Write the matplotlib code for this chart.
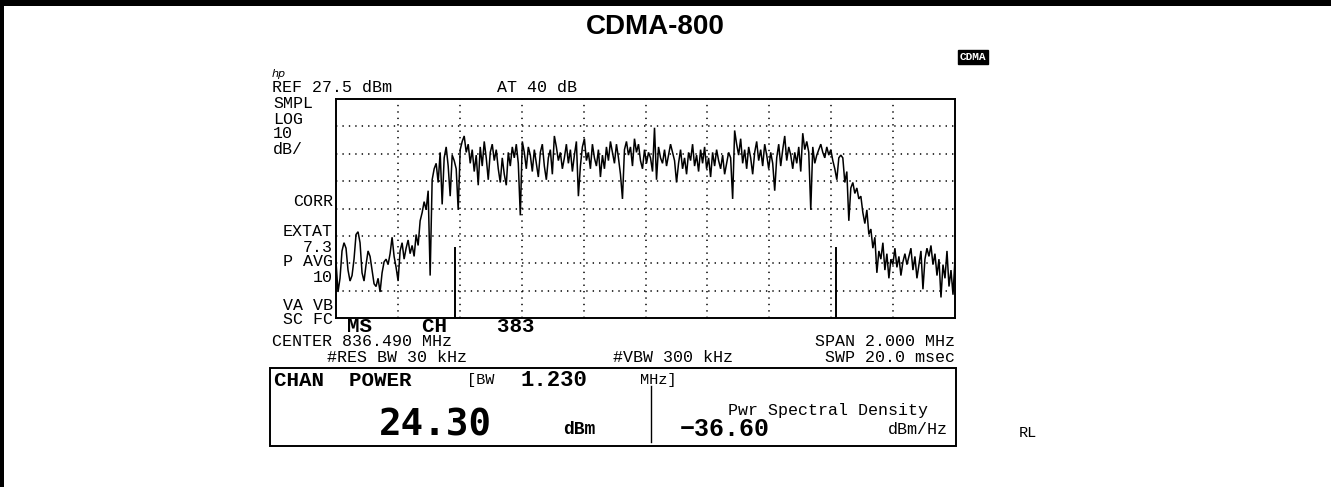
import numpy as np
import matplotlib
matplotlib.use("Agg")
import matplotlib.pyplot as plt
from matplotlib.patches import Rectangle

# ---------------- data ----------------
title = "CDMA-800"
center_mhz = 836.490
span_mhz = 2.000
ref_dbm = 27.5
db_per_div = 10
n_div_x = 10
n_div_y = 8
chan_bw_mhz = 1.230
marker_top_dbm = -27.0

trace_dbm = [
    -32, -43, -38, -28, -25, -27, -35, -39, -37, -31,
    -22, -21, -25, -36, -39, -33, -28, -30, -35, -40,
    -41, -38, -43, -36, -32, -31, -33, -29, -23, -30,
    -34, -39, -28, -25, -31, -27, -24, -29, -26, -30,
    -22, -26, -17, -14, -10, -13, -6, -37, -2, 2,
    4, -3, 8, -11, 6, 10, 3, -8, 7, 5,
    2, -13, 9, 12, 14, 8, 11, 4, 9, 1,
    7, -4, 10, 3, 12, 6, -2, 8, 11, 5,
    9, 2, -3, 6, 0, -4, 8, 3, 10, 6,
    11, 4, -15, 12, 8, 2, 10, 7, 1, 9,
    4, -1, 8, 11, 3, -2, 6, 9, 0, 14,
    10, 5, 8, 2, 6, 11, 4, 9, 1, 7,
    12, -8, 3, 10, 13, 5, 8, 2, 11, 6,
    3, 9, -1, 7, 2, 10, 5, 12, 8, 4,
    11, 6, 0, -9, 9, 12, 7, 10, 3, 13,
    8, 11, 5, 2, 9, 4, 8, 6, 1, 17,
    -2, 10, 6, 4, 9, 3, 7, 11, 8, 5,
    -3, 4, 9, 2, 6, 0, 8, 5, 11, 3,
    7, 1, 9, 4, 10, 2, 6, -1, 8, 3,
    9, 5, 2, 7, 0, 4, 8, 6, -9, 16,
    11, 7, 13, 4, 9, 2, 10, 6, 0, 8,
    12, 5, 9, 3, 11, 7, 2, 8, 4, -6,
    6, 11, 3, 9, 14, 5, 10, 7, 2, 8,
    4, 10, 1, 15, 9, 12, 8, -13, 10, 4,
    7, 9, 11, 8, 6, 10, 7, 9, 5, 2,
    -2, 6, 7, 6, -3, 1, -17, -5, -3, -7,
    -5, -9, -8, -14, -18, -13, -22, -20, -27, -23,
    -36, -28, -31, -25, -35, -29, -38, -31, -33, -27,
    -34, -30, -37, -32, -29, -33, -30, -27, -35, -30,
    -38, -33, -28, -42, -31, -27, -30, -26, -33, -29,
    -37, -31, -45, -33, -38, -28, -41, -35, -44, -31,
]

left_labels = ["SMPL", "LOG", "10", "dB/"]
mid_labels = ["CORR", "EXTAT", "7.3", "P AVG", "10"]
chan_power = "24.30"
psd_value = "\u221236.60"

# ---------------- figure ----------------
W, H = 1331, 487
fig = plt.figure(figsize=(W / 100, H / 100), dpi=100)
fig.patch.set_facecolor("white")

ov = fig.add_axes([0, 0, 1, 1])
ov.set_xlim(0, W)
ov.set_ylim(H, 0)
ov.axis("off")

MONO = "Liberation Mono"
SANS = "Liberation Sans"


def T(x, y, s, size=12, ha="left", va="center", family=MONO, weight="normal", **kw):
    ov.text(x, y, s, fontsize=size, ha=ha, va=va, family=family,
            weight=weight, color="black", **kw)


# page border (top and left)
ov.add_patch(Rectangle((0, 0), W, 6, color="black", lw=0))
ov.add_patch(Rectangle((0, 0), 4, H, color="black", lw=0))

# title
T(655, 27, title, size=20, ha="center", family=SANS, weight="bold")

# CDMA inverse label
ov.text(973, 57, "CDMA", fontsize=8, ha="center", va="center", family=MONO,
        color="white", weight="bold",
        bbox=dict(boxstyle="square,pad=0.15", fc="black", ec="black"))

# header texts
T(272, 74, "hp", size=8, style="italic", family="DejaVu Sans")
T(272, 88, "REF 27.5 dBm", size=12)
T(497, 88, "AT 40 dB", size=12)

for i, s in enumerate(left_labels):
    T(273, 104 + 15 * i, s, size=12)
T(333, 201, mid_labels[0], size=12, ha="right")
T(333, 232, mid_labels[1], size=12, ha="right")
T(333, 247, mid_labels[2], size=12, ha="right")
T(333, 262, mid_labels[3], size=12, ha="right")
T(333, 277, mid_labels[4], size=12, ha="right")
T(333, 306, "VA VB", size=12, ha="right")
T(333, 319, "SC FC", size=12, ha="right")

T(347, 327, "MS    CH    383", size=15, weight="bold")
T(272, 342, "CENTER 836.490 MHz", size=12)
T(467, 357, "#RES BW 30 kHz", size=12, ha="right")
T(733, 357, "#VBW 300 kHz", size=12, ha="right")
T(955, 342, "SPAN 2.000 MHz", size=12, ha="right")
T(955, 357, "SWP 20.0 msec", size=12, ha="right")

# channel power box
ov.add_patch(Rectangle((270, 368), 686, 78, fill=False, ec="black", lw=1.4))
ov.plot([651, 651], [386, 442], color="black", lw=1.0)
T(274, 380, "CHAN  POWER", size=15, weight="bold")
T(467, 380, "[BW", size=11)
T(520, 380, "1.230", size=16, weight="bold")
T(640, 380, "MHz]", size=11)
T(435, 425, chan_power, size=27, ha="center", weight="bold", family="DejaVu Sans Mono")
T(563, 430, "dBm", size=13, weight="bold")
T(928, 410, "Pwr Spectral Density", size=12, ha="right")
T(680, 429, psd_value, size=18, weight="bold")
T(948, 429, "dBm/Hz", size=12, ha="right")
T(1019, 433, "RL", size=11)

# ---------------- spectrum axes ----------------
x0, x1, ytop, ybot = 336, 955, 99, 318
ax = fig.add_axes([x0 / W, 1 - ybot / H, (x1 - x0) / W, (ybot - ytop) / H])
f_lo = center_mhz - span_mhz / 2
f_hi = center_mhz + span_mhz / 2
y_lo = ref_dbm - db_per_div * n_div_y
ax.set_xlim(f_lo, f_hi)
ax.set_ylim(y_lo, ref_dbm)
ax.set_xticks([])
ax.set_yticks([])
for sp in ax.spines.values():
    sp.set_linewidth(1.4)
    sp.set_color("black")

dot = (0, (0.9, 3.3))
for k in range(1, n_div_x):
    ax.axvline(f_lo + k * span_mhz / n_div_x, color="black", lw=1.1, ls=dot)
for k in range(1, n_div_y):
    ax.axhline(y_lo + k * db_per_div, color="black", lw=1.1, ls=dot)

freqs = np.linspace(f_lo, f_hi, len(trace_dbm))
ax.plot(freqs, trace_dbm, color="black", lw=1.1, solid_joinstyle="miter")

for fm in (center_mhz - chan_bw_mhz / 2, center_mhz + chan_bw_mhz / 2):
    ax.plot([fm, fm], [y_lo, marker_top_dbm], color="black", lw=1.4)

fig.savefig("out.png", dpi=100, facecolor="white")
